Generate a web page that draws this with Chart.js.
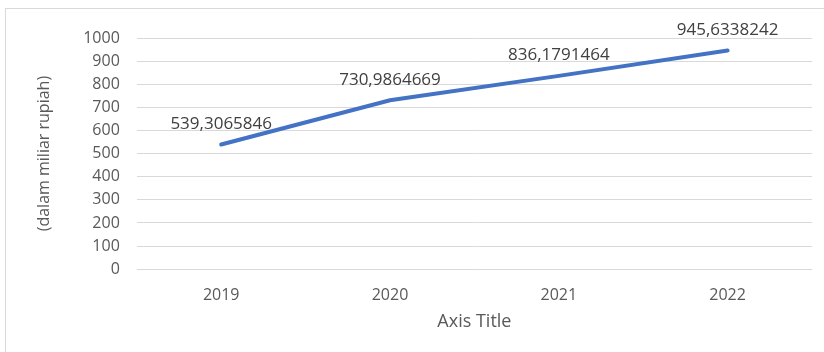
<!DOCTYPE html>
<html>
<head>
<meta charset="utf-8">
<script src="https://cdn.jsdelivr.net/npm/chart.js@4.4.0/dist/chart.umd.min.js"></script>
<style>
  html, body { margin: 0; padding: 0; background: #ffffff; }
  #wrap { position: relative; width: 824px; height: 352px; }
  #frame { position: absolute; left: 5px; top: 8px; right: 0; bottom: 0; border-left: 1px solid #d9d9d9; border-top: 1px solid #d9d9d9; }
  canvas { position: absolute; left: 0; top: 0; }
</style>
</head>
<body>
<div id="wrap">
  <div id="frame"></div>
  <canvas id="lineChart" width="824" height="352"></canvas>
</div>
<script>
const years = ['2019', '2020', '2021', '2022'];
const values = [539.3065846, 730.9864669, 836.1791464, 945.6338242];
const valueLabels = ['539,3065846', '730,9864669', '836,1791464', '945,6338242'];
const yTitle = '(dalam miliar rupiah)';
const xTitle = 'Axis Title';

const fontName = "'Open Sans', 'Noto Sans', sans-serif";

// draws the value text above each point
const valueLabelPlugin = {
    id: 'valueLabels',
    afterDatasetsDraw(chart) {
        const ctx = chart.ctx;
        const meta = chart.getDatasetMeta(0);
        ctx.save();
        ctx.font = '17px ' + fontName;
        ctx.fillStyle = '#404040';
        ctx.textAlign = 'center';
        ctx.textBaseline = 'bottom';
        meta.data.forEach((pt, i) => {
            ctx.fillText(valueLabels[i], pt.x, pt.y - 12);
        });
        ctx.restore();
    }
};

const chartEl = document.getElementById('lineChart');
new Chart(chartEl, {
    type: 'line',
    data: {
        labels: years,
        datasets: [{
            data: values,
            borderColor: '#4472c4',
            borderWidth: 4,
            pointRadius: 0,
            borderCapStyle: 'round',
            tension: 0
        }]
    },
    options: {
        responsive: false,
        animation: false,
        layout: { padding: { left: 31, right: 12, top: 38, bottom: 13 } },
        plugins: {
            legend: { display: false },
            tooltip: { enabled: false }
        },
        scales: {
            x: {
                offset: true,
                grid: { display: false, drawTicks: false },
                border: { display: false },
                ticks: { color: '#595959', font: { family: fontName, size: 16 }, padding: 17 },
                title: { display: true, text: xTitle, color: '#595959', font: { family: fontName, size: 18 }, padding: { top: -11, bottom: 6 } }
            },
            y: {
                min: 0,
                max: 1000,
                ticks: { stepSize: 100, color: '#595959', font: { family: fontName, size: 16 }, padding: 17,
                    callback: v => String(v) },
                grid: { color: '#d9d9d9', lineWidth: 1, drawTicks: false },
                border: { display: false },
                title: { display: true, text: yTitle, color: '#595959', font: { family: fontName, size: 16 }, padding: { bottom: 12 } }
            }
        }
    },
    plugins: [valueLabelPlugin]
});
</script>
</body>
</html>
